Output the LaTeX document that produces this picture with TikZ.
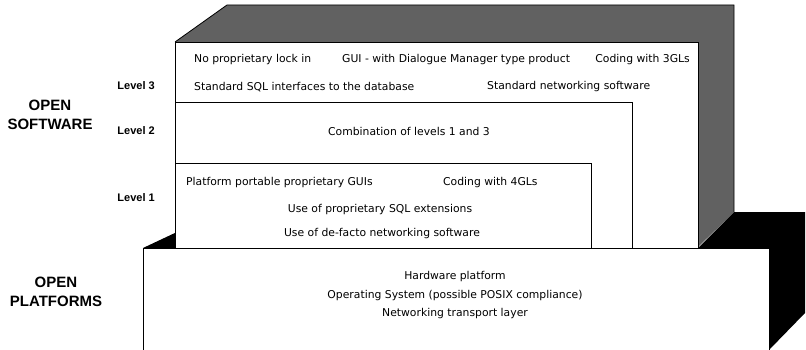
\documentclass[tikz,border=0pt]{standalone}
\usepackage{fontspec}
\setmainfont{DejaVu Sans}
\newfontfamily\labfont{Liberation Sans}
\begin{document}
\begin{tikzpicture}[x=1pt,y=-1pt,
  txt/.style={inner sep=0pt,font=\fontsize{10.8}{13}\selectfont},
  lvl/.style={inner sep=0pt,anchor=east,font=\labfont\bfseries\fontsize{11}{13}\selectfont},
  big/.style={inner sep=0pt,align=center,font=\labfont\bfseries\fontsize{15}{18.5}\selectfont},
  boxline/.style={draw=black,line width=0.8pt},
  hatch/.style={fill=black!62}]
\useasboundingbox (0,0) rectangle (806,350);
% dotted-screen depth of the software block
\fill[hatch] (175,42) -- (227,5) -- (734,5) -- (734,212) -- (698,247) -- (698,42) -- cycle;
\draw[line width=0.8pt] (175,42) -- (227,5) -- (734,5) -- (734,212);
% black depth of the platform
\fill[black] (698,248) -- (734,212) -- (805,212) -- (805,313) -- (769,350) -- (769,248) -- cycle;
\fill[black] (143,248) -- (177,232) -- (177,248) -- cycle;
% level boxes
\draw[boxline,fill=white] (175,248) -- (175,42) -- (698,42) -- (698,248);
\draw[boxline,fill=white] (175,248) -- (175,102) -- (632,102) -- (632,248);
\draw[boxline,fill=white] (175,248) -- (175,163) -- (591,163) -- (591,248);
% platform
\draw[boxline,fill=white] (143,351) -- (143,248) -- (769,248) -- (769,351);
% texts level 3
\node[txt,anchor=west] (t31) at (194,60) {No proprietary lock in};
\node[txt,anchor=west] (t32) at (342,60) {GUI - with Dialogue Manager type product};
\node[txt,anchor=east] (t33) at (690,60) {Coding with 3GLs};
\node[txt,anchor=west] (t34) at (194,87) {Standard SQL interfaces to the database};
\node[txt,anchor=west] (t35) at (487,87) {Standard networking software};
% level 2
\node[txt] (t21) at (409,131) {Combination of levels 1 and 3};
% level 1
\node[txt,anchor=west] (t11) at (186,183) {Platform portable proprietary GUIs};
\node[txt,anchor=west] (t12) at (443,183) {Coding with 4GLs};
\node[txt] (t13) at (380,210) {Use of proprietary SQL extensions};
\node[txt] (t14) at (382,234) {Use of de-facto networking software};
% platform
\node[txt] (p1) at (455,277) {Hardware platform};
\node[txt] (p2) at (455,296) {Operating System (possible POSIX compliance)};
\node[txt] (p3) at (455,314) {Networking transport layer};
% labels
\node[lvl] (l3) at (155,86) {Level 3};
\node[lvl] (l2) at (155,131) {Level 2};
\node[lvl] (l1) at (155,198) {Level 1};
\node[big] (os) at (50,115) {OPEN\\SOFTWARE};
\node[big] (op) at (56,292) {OPEN\\PLATFORMS};
\end{tikzpicture}
\end{document}
